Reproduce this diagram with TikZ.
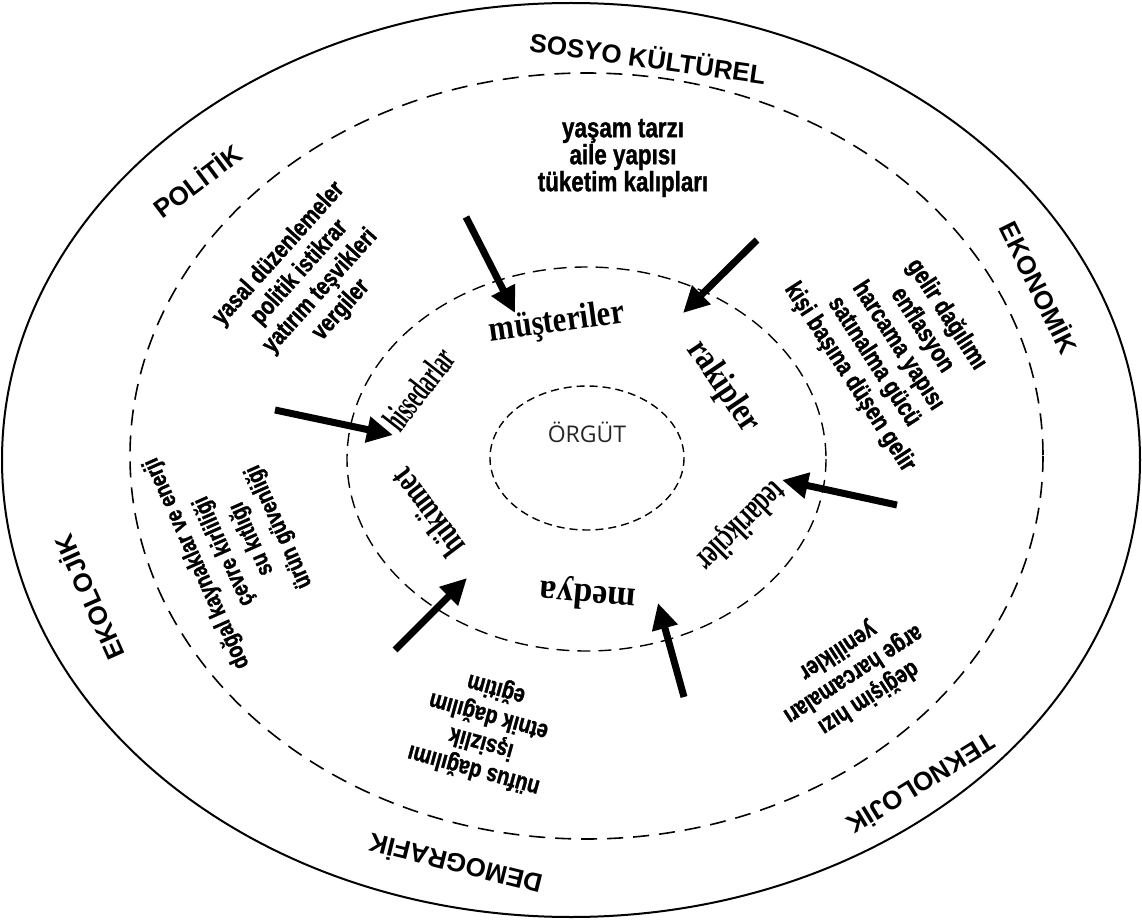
\documentclass[tikz,border=0pt]{standalone}
\usepackage{fontspec}
\usepackage{graphicx}
\setmainfont{Liberation Sans}
\newfontfamily\facfont[FakeStretch=0.8,FakeBold=1.2]{Liberation Sans Bold}
\newfontfamily\ringfont{Liberation Serif}
\newfontfamily\orgfont{Open Sans}
\usetikzlibrary{arrows.meta}

\tikzset{
  outerlab/.style={font=\bfseries\fontsize{13}{15}\selectfont, inner sep=0pt},
  factor/.style={font=\facfont\fontsize{12.5}{14}\selectfont, align=center, inner sep=0pt},
  ringlab/.style={font=\ringfont\bfseries\fontsize{18}{20}\selectfont, inner sep=0pt},
  pusharrow/.style={line width=3.5pt, -{Triangle[length=13pt,width=12.5pt]}},
}

\begin{document}
\begin{tikzpicture}[x=0.5pt,y=-0.5pt]
  \useasboundingbox (0,0) rectangle (1142,920);
  \fill[white] (0,0) rectangle (1142,920);

  % environment rings
  \draw[line width=1pt] (571,460) ellipse [x radius=569, y radius=457];
  \draw[line width=0.8pt, dash pattern=on 8pt off 5pt] (586.5,456) ellipse [x radius=456.5, y radius=383];
  \draw[line width=0.7pt, dash pattern=on 6.5pt off 4pt] (586.5,459) ellipse [x radius=239.5, y radius=192];
  \draw[line width=0.7pt, dash pattern=on 4pt off 2.5pt] (587,458) ellipse [x radius=97, y radius=72];

  \node[font=\orgfont\fontsize{11.5}{13}\selectfont, text=black!85] (orgut) at (587,432) {ÖRGÜT};

  % macro environment
  \node[outerlab, rotate=-8] (sosyo) at (648,57) {SOSYO KÜLTÜREL};
  \node[outerlab, rotate=37] (politik) at (197,180) {POLİTİK};
  \node[outerlab, rotate=-63.6] (ekonomik) at (1040,287) {EKONOMİK};
  \node[outerlab, rotate=-148.5] (teknolojik) at (922,785) {TEKNOLOJİK};
  \node[outerlab, rotate=166] (demografik) at (455,865) {DEMOGRAFİK};
  \node[outerlab, rotate=114] (ekolojik) at (88,598) {EKOLOJİK};

  \node[factor, font=\facfont\fontsize{14}{13.5}\selectfont] (sosyoF) at (623,158) {yaşam tarzı\\aile yapısı\\tüketim kalıpları};
  \node[factor, rotate=48] (politikF) at (310,282) {yasal düzenlemeler\\politik istikrar\\yatırım teşvikleri\\vergiler};
  \node[factor, rotate=-57, font=\facfont\fontsize{12.8}{14.4}\selectfont] (ekonomikF) at (898,346) {gelir dağılımı\\enflasyon\\harcama yapısı\\satınalma gücü\\kişi başına düşen gelir};
  \node[factor, rotate=-147] (teknolojikF) at (853,674) {değişim hızı\\arge harcamaları\\yenilikler};
  \node[factor, rotate=164.5] (demografikF) at (485,729) {nüfus dağılımı\\işsizlik\\etnik dağılım\\eğitim};
  \node[factor, rotate=114, font=\facfont\fontsize{12}{15}\selectfont] (ekolojikF) at (238,545) {doğal kaynaklar ve enerji\\çevre kirliliği\\su kıtlığı\\ürün güvenliği};

  % task environment
  \node[ringlab, rotate=8] (musteri) at (557,323) {\scalebox{0.85}[1]{müşteriler}};
  \node[ringlab, rotate=-56] (rakip) at (723,387) {\scalebox{0.82}[1]{rakipler}};
  \node[ringlab, rotate=-135] (tedarik) at (740,525) {\scalebox{0.62}[1]{tedarikçiler}};
  \node[ringlab, rotate=175] (medya) at (588,594) {\scalebox{0.94}[1]{medya}};
  \node[ringlab, rotate=127] (hukumet) at (427,513) {\scalebox{0.72}[1]{hükümet}};
  \node[ringlab, rotate=52] (hissedar) at (419,389) {\scalebox{0.54}[1]{hissedarlar}};

  % forces
  \coordinate (f1) at (466,217); \coordinate (t1) at (515,313);
  \coordinate (f2) at (757,240); \coordinate (t2) at (683,313);
  \coordinate (f3) at (275,410); \coordinate (t3) at (393,435);
  \coordinate (f4) at (897,505); \coordinate (t4) at (782,480);
  \coordinate (f5) at (395,650); \coordinate (t5) at (467,578);
  \coordinate (f6) at (684,697); \coordinate (t6) at (658,603);
  \foreach \i in {1,...,6}
    \draw[pusharrow] (f\i) -- (t\i);
\end{tikzpicture}
\end{document}
